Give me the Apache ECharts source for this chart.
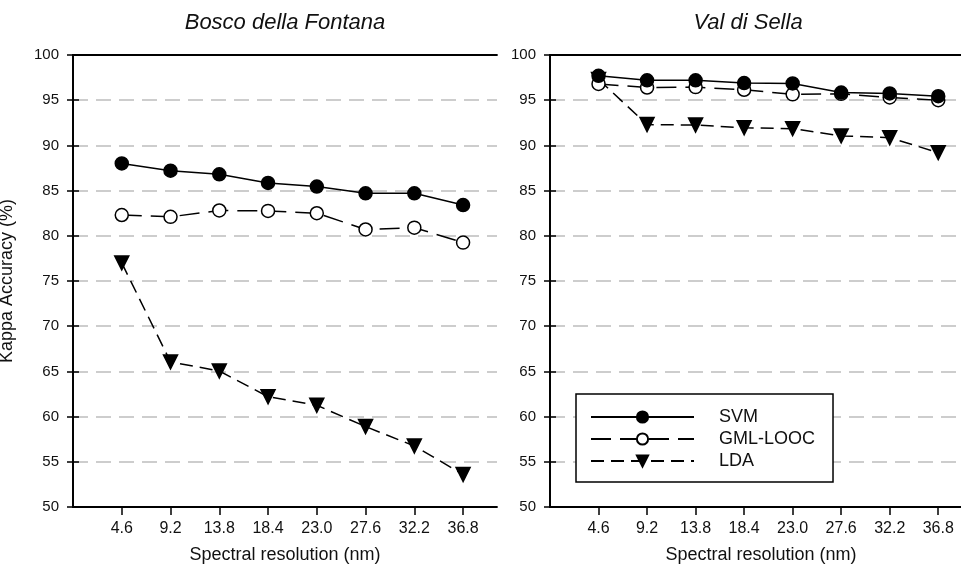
<!DOCTYPE html>
<html>
<head>
<meta charset="utf-8">
<script src="https://cdn.jsdelivr.net/npm/echarts@6/dist/echarts.min.js"></script>
<style>
html,body{margin:0;padding:0;background:#fff;}
#chart{width:961px;height:570px;}
</style>
</head>
<body>
<div id="chart"></div>
<script>
// ---- data ----
const resolutions = [4.6, 9.2, 13.8, 18.4, 23.0, 27.6, 32.2, 36.8];
const panelTitles = ['Bosco della Fontana', 'Val di Sella'];
const seriesNames = ['SVM', 'GML-LOOC', 'LDA'];

const boscoSVM = [88.0, 87.2, 86.8, 85.85, 85.45, 84.7, 84.7, 83.4];
const boscoGML = [82.3, 82.1, 82.8, 82.75, 82.5, 80.7, 80.9, 79.25];
const boscoLDA = [77.0, 66.05, 65.05, 62.2, 61.25, 58.9, 56.75, 53.6];

const sellaSVM = [97.7, 97.2, 97.2, 96.9, 96.85, 95.85, 95.75, 95.45];
const sellaGML = [96.8, 96.4, 96.45, 96.15, 95.65, 95.7, 95.3, 95.0];
const sellaLDA = [97.3, 92.3, 92.25, 91.95, 91.85, 91.05, 90.85, 89.2];

// ---- build ----
const pair = arr => resolutions.map((x, i) => [x, arr[i]]);
const styles = {
  'SVM': { symbol: 'circle', symbolSize: 13, symbolRotate: 0, fill: '#000', line: 'solid' },
  'GML-LOOC': { symbol: 'circle', symbolSize: 13, symbolRotate: 0, fill: '#fff', line: [20, 9] },
  'LDA': { symbol: 'triangle', symbolSize: 14, symbolRotate: 180, fill: '#000', line: [13, 7] }
};
function mkSeries(name, data, idx) {
  const s = styles[name];
  return {
    type: 'line', name: name, xAxisIndex: idx, yAxisIndex: idx,
    data: pair(data), symbol: s.symbol, symbolSize: s.symbolSize, symbolRotate: s.symbolRotate,
    showAllSymbol: true, animation: false,
    lineStyle: { color: '#000', width: 1.5, type: s.line },
    itemStyle: { color: s.fill, borderColor: '#000', borderWidth: 1.5 },
    z: name === 'SVM' ? 5 : (name === 'GML-LOOC' ? 4 : 3)
  };
}

const axisLineStyle = { show: true, lineStyle: { color: '#000', width: 1.8 } };
const tickFont = { fontFamily: 'Liberation Sans Narrow, Arial Narrow, Liberation Sans, sans-serif', fontSize: 16, color: '#111' };

function xAxes(gi) {
  return [
    {
      type: 'value', gridIndex: gi, min: 0, max: 40, position: 'bottom',
      axisLine: axisLineStyle,
      axisTick: { show: true, length: 8, customValues: resolutions, lineStyle: { color: '#000', width: 1.5 } },
      axisLabel: Object.assign({ show: true, margin: 14, customValues: resolutions,
        formatter: v => Number(v).toFixed(1) }, tickFont),
      splitLine: { show: false },
      name: 'Spectral resolution (nm)', nameLocation: 'middle', nameGap: 39,
      nameTextStyle: { fontFamily: 'Liberation Sans, Arial, sans-serif', fontSize: 18, color: '#111' }
    },
    {
      type: 'value', gridIndex: gi, min: 0, max: 40, position: 'top',
      axisLine: axisLineStyle, axisTick: { show: false }, axisLabel: { show: false }, splitLine: { show: false }
    }
  ];
}
function yAxes(gi, withName) {
  const main = {
    type: 'value', gridIndex: gi, min: 50, max: 100, interval: 5, position: 'left',
    axisLine: axisLineStyle,
    axisTick: { show: true, length: 6, lineStyle: { color: '#000', width: 1.5 } },
    axisLabel: { show: true, margin: 14, fontFamily: 'Liberation Sans, Arial, sans-serif', fontSize: 15, color: '#111' },
    splitLine: { show: true, lineStyle: { color: '#bdbdbd', width: 1.5, type: [15, 8] } }
  };
  if (withName) {
    main.name = 'Kappa Accuracy (%)';
    main.nameLocation = 'middle';
    main.nameRotate = 90;
    main.nameGap = 57;
    main.nameTextStyle = { fontFamily: 'Liberation Sans, Arial, sans-serif', fontSize: 18, color: '#111' };
  }
  const right = {
    type: 'value', gridIndex: gi, min: 50, max: 100, interval: 5, position: 'right',
    axisLine: axisLineStyle,
    axisTick: { show: true, length: 6, lineStyle: { color: '#000', width: 1.5 } },
    axisLabel: { show: false }, splitLine: { show: false }
  };
  return [main, right];
}

const option = {
  backgroundColor: '#fff',
  animation: false,
  grid: [
    { left: 73, width: 424, top: 55, bottom: 63, outerBoundsMode: 'none', containLabel: false },
    { left: 550, width: 422, top: 55, bottom: 63, outerBoundsMode: 'none', containLabel: false }
  ],
  xAxis: [].concat(xAxes(0), xAxes(1)),
  yAxis: [].concat(yAxes(0, true), yAxes(1, false)),
  legend: {
    orient: 'vertical', left: 576, top: 394,
    data: seriesNames,
    itemWidth: 103, itemHeight: 14, itemGap: 4,
    padding: [14, 18, 12, 14],
    borderColor: '#000', borderWidth: 1.5, backgroundColor: '#fff',
    textStyle: { fontFamily: 'Liberation Sans, Arial, sans-serif', fontSize: 18, lineHeight: 18, color: '#111', padding: [0, 0, 0, 20] },
    selectedMode: false, z: 10
  },
  graphic: [
    { type: 'text', x: 285, y: 23, style: { text: panelTitles[0], align: 'center', verticalAlign: 'middle',
      font: 'italic 22px "Liberation Sans", Arial, sans-serif', fill: '#111' } },
    { type: 'text', x: 748, y: 23, style: { text: panelTitles[1], align: 'center', verticalAlign: 'middle',
      font: 'italic 22px "Liberation Sans", Arial, sans-serif', fill: '#111' } }
  ],
  series: [
    mkSeries('SVM', boscoSVM, 0),
    mkSeries('GML-LOOC', boscoGML, 0),
    mkSeries('LDA', boscoLDA, 0),
    mkSeries('SVM', sellaSVM, 2),
    mkSeries('GML-LOOC', sellaGML, 2),
    mkSeries('LDA', sellaLDA, 2)
  ]
};
const chart = echarts.init(document.getElementById('chart'), null, { renderer: 'canvas' });
chart.setOption(option);
</script>
</body>
</html>
